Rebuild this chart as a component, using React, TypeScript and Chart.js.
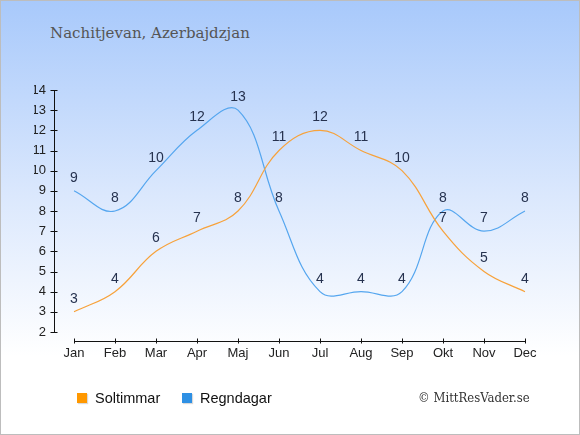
import { useEffect, useRef } from "react";
import { Chart, registerables } from "chart.js";

Chart.register(...registerables);

// Data
const months = ["Jan", "Feb", "Mar", "Apr", "Maj", "Jun", "Jul", "Aug", "Sep", "Okt", "Nov", "Dec"];
const sunHours = [3, 4, 6, 7, 8, 11, 12, 11, 10, 7, 5, 4];
const rainDays = [9, 8, 10, 12, 13, 8, 4, 4, 4, 8, 7, 8];
const yTicks = [2, 3, 4, 5, 6, 7, 8, 9, 10, 11, 12, 13, 14];

const SUN_LINE = "#f7a23b";
const RAIN_LINE = "#55a6ef";
const SUN_BOX = "#ff9800";
const RAIN_BOX = "#2e90e4";
const LABEL_COLOR = "#26324f";

const App = () => {
  const canvasRef = useRef<HTMLCanvasElement>(null);
  const chartRef = useRef<Chart | null>(null);

  useEffect(() => {
    document.body.style.margin = "0";
    if (!canvasRef.current) return;

    // axes drawn by hand: y axis sits left of the plot, x axis a bit below it
    const axesPlugin = {
      id: "detachedAxes",
      afterDraw(chart: Chart) {
        const { ctx, chartArea, scales } = chart;
        const x = scales.x;
        const y = scales.y;
        ctx.save();
        ctx.strokeStyle = "#111";
        ctx.lineWidth = 1;
        const ax = Math.round(chartArea.left - 20) + 0.5;
        ctx.beginPath();
        ctx.moveTo(ax, y.getPixelForValue(14));
        ctx.lineTo(ax, y.getPixelForValue(2));
        yTicks.forEach((t) => {
          const py = Math.round(y.getPixelForValue(t)) + 0.5;
          ctx.moveTo(ax - 4, py);
          ctx.lineTo(ax + 3, py);
        });
        const ay = Math.round(chartArea.bottom + 9) + 0.5;
        ctx.moveTo(x.getPixelForValue(0), ay);
        ctx.lineTo(x.getPixelForValue(months.length - 1), ay);
        months.forEach((_, i) => {
          const px = Math.round(x.getPixelForValue(i)) + 0.5;
          ctx.moveTo(px, ay - 3);
          ctx.lineTo(px, ay + 2);
        });
        ctx.stroke();
        ctx.restore();
      },
    };

    // value labels above each point
    const valueLabels = {
      id: "valueLabels",
      afterDatasetsDraw(chart: Chart) {
        const { ctx } = chart;
        ctx.save();
        ctx.font = "14px 'Liberation Sans', Arial, sans-serif";
        ctx.fillStyle = LABEL_COLOR;
        ctx.textAlign = "center";
        ctx.textBaseline = "middle";
        chart.data.datasets.forEach((ds, di) => {
          const meta = chart.getDatasetMeta(di);
          meta.data.forEach((pt, i) => {
            ctx.fillText(String(ds.data[i]), pt.x, pt.y - 13);
          });
        });
        ctx.restore();
      },
    };

    chartRef.current = new Chart(canvasRef.current, {
      type: "line",
      data: {
        labels: months,
        datasets: [
          {
            label: "Soltimmar",
            data: sunHours,
            borderColor: SUN_LINE,
            borderWidth: 1.2,
            tension: 0.4,
            pointRadius: 0,
            fill: false,
          },
          {
            label: "Regndagar",
            data: rainDays,
            borderColor: RAIN_LINE,
            borderWidth: 1.2,
            tension: 0.4,
            pointRadius: 0,
            fill: false,
          },
        ],
      },
      options: {
        animation: false,
        responsive: false,
        layout: { padding: { left: 33, right: 54, top: 89, bottom: 72 } },
        scales: {
          x: {
            offset: false,
            border: { display: false },
            grid: { display: false, drawTicks: false },
            ticks: {
              padding: 14,
              color: "#222",
              font: { family: "'Liberation Sans', Arial, sans-serif", size: 13 },
              maxRotation: 0,
              autoSkip: false,
            },
            afterFit: (s: any) => {
              s.height = 30;
            },
          },
          y: {
            min: 2,
            max: 14,
            border: { display: false },
            grid: { display: false, drawTicks: false },
            ticks: {
              stepSize: 1,
              padding: 28,
              color: "#222",
              font: { family: "'Liberation Sans', Arial, sans-serif", size: 13 },
            },
            afterFit: (s: any) => {
              s.width = 40;
            },
          },
        },
        plugins: {
          legend: { display: false },
          tooltip: { enabled: false },
          title: { display: false },
        },
      },
      plugins: [axesPlugin, valueLabels],
    });

    return () => {
      chartRef.current?.destroy();
      chartRef.current = null;
    };
  }, []);

  const legendItem = (color: string, label: string, left: number) => (
    <div
      style={{
        position: "absolute",
        left,
        top: 389,
        display: "flex",
        alignItems: "center",
        fontFamily: "'Liberation Sans', Arial, sans-serif",
        fontSize: 14.5,
        color: "#111",
      }}
    >
      <div
        style={{
          width: 10,
          height: 10,
          background: color,
          marginRight: 8,
          boxShadow: "1px 1px 1px rgba(0,0,0,0.15)",
        }}
      />
      <span>{label}</span>
    </div>
  );

  return (
    <div
      style={{
        position: "relative",
        width: 580,
        height: 435,
        boxSizing: "border-box",
        border: "1px solid #bdbdbd",
        background: "linear-gradient(to bottom, #a8c9fb 0%, #dbe8fd 45%, #ffffff 82%)",
        overflow: "hidden",
      }}
    >
      <div
        style={{
          position: "absolute",
          left: 49,
          top: 23,
          fontFamily: "'DejaVu Serif', Georgia, serif",
          fontSize: 15,
          color: "#555",
          whiteSpace: "nowrap",
        }}
      >
        Nachitjevan, Azerbajdzjan
      </div>
      <canvas ref={canvasRef} width={578} height={433} style={{ position: "absolute", left: 0, top: 0 }} />
      {legendItem(SUN_BOX, "Soltimmar", 76)}
      {legendItem(RAIN_BOX, "Regndagar", 181)}
      <div
        style={{
          position: "absolute",
          left: 417,
          top: 389,
          fontFamily: "'DejaVu Serif Condensed', 'DejaVu Serif', serif",
          fontSize: 13,
          fontStretch: "condensed",
          color: "#333",
          whiteSpace: "nowrap",
        }}
      >
        © MittResVader.se
      </div>
    </div>
  );
};

export default App;
